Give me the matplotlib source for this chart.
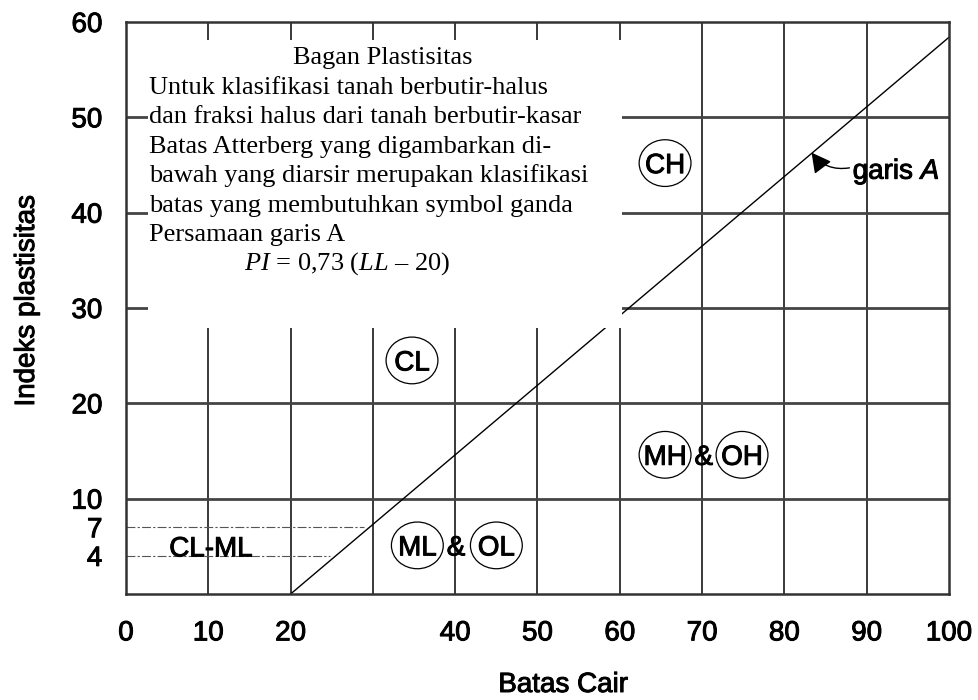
import matplotlib
matplotlib.use('Agg')
import matplotlib.pyplot as plt
from matplotlib.patches import Ellipse, Rectangle
import matplotlib.patheffects as pe
import numpy as np

plt.rcParams['font.family'] = ['Liberation Sans', 'DejaVu Sans']
plt.rcParams['mathtext.fontset'] = 'custom'
plt.rcParams['mathtext.rm'] = 'Liberation Serif'
plt.rcParams['mathtext.it'] = 'Liberation Serif:italic'
plt.rcParams['mathtext.sf'] = 'Liberation Sans:italic'

# axis ticks / grid
x_ticks = [0, 10, 20, 40, 50, 60, 70, 80, 90, 100]
y_ticks = [4, 7, 10, 20, 30, 40, 50, 60]
grid_x = [10, 20, 30, 40, 50, 60, 70, 80, 90]
grid_y = [10, 20, 30, 40, 50]

# A-line: PI = 0.73 (LL - 20)
a_slope = 0.73
a_start = 20
ll_line = np.array([20, 100])
pi_line = a_slope * (ll_line - a_start)

# CL-ML band limits
band_pi = [4, 7]

# soil group labels (circled)
groups = ['CH', 'CL', 'MH', 'OH', 'ML', 'OL']
group_ll = [65.5, 34.75, 65.5, 74.85, 35.4, 45.0]
group_pi = [45.2, 24.5, 14.6, 14.6, 5.1, 5.1]
amp_ll = [70.2, 40.1]
amp_pi = [14.6, 5.1]

# text box lines
box_title = 'Bagan Plastisitas'
box_lines = ['Untuk klasifikasi tanah berbutir-halus',
             'dan fraksi halus dari tanah berbutir-kasar',
             'Batas Atterberg yang digambarkan di-',
             'bawah yang diarsir merupakan klasifikasi',
             'batas yang membutuhkan symbol ganda',
             'Persamaan garis A']
box_eq = r'$PI$ = 0,73 ($LL$ – 20)'

heavy = [pe.withStroke(linewidth=0.7, foreground='k')]

fig = plt.figure(figsize=(9.79, 7), dpi=100)
ax = fig.add_axes([126/979, 106/700, 823/979, 572/700])
ax.set_xlim(0, 100)
ax.set_ylim(0, 60)

ax.vlines(grid_x, 0, 60, color='#2a2a2a', lw=1.3, zorder=1)
ax.hlines(grid_y, 0, 100, color='#444444', lw=2.0, zorder=1)

ax.plot(ll_line, pi_line, color='k', lw=1.0, zorder=2)

# dashed CL-ML limits, ending at the A-line
for p in band_pi:
    ax.plot([0, a_start + p / a_slope - 0.7], [p, p], color='#555555', lw=0.8,
            linestyle=(0, (8, 2, 2, 2)), zorder=2)
ax.text(10.3, 5.0, 'CL-ML', fontsize=20, ha='center', va='center_baseline', zorder=4,
        path_effects=heavy)

# white text box covering grid
ax.add_patch(Rectangle((2.7, 27.9), 60.3 - 2.7, 58.1 - 27.9, facecolor='white',
                       edgecolor='none', zorder=3))

serif = ['Liberation Serif', 'DejaVu Serif']
ax.text(31.2, 55.6, box_title, family=serif, fontsize=19, ha='center', va='baseline', zorder=4)
for i, line in enumerate(box_lines):
    ax.text(2.85, 52.5 - i * 3.1, line, family=serif, fontsize=19, ha='left',
            va='baseline', zorder=4)
ax.text(26.9, 34.0, box_eq, family=serif, fontsize=19, ha='center',
        va='baseline', zorder=4)

for g, x, y in zip(groups, group_ll, group_pi):
    ax.add_patch(Ellipse((x, y), 6.3, 4.9, facecolor='white', edgecolor='k', lw=0.9, zorder=4))
    ax.text(x, y, g, fontsize=20, ha='center', va='center_baseline', zorder=5,
            path_effects=heavy)
for x, y in zip(amp_ll, amp_pi):
    ax.text(x, y, '&', fontsize=20, ha='center', va='center_baseline', zorder=5,
            path_effects=heavy)

ax.annotate('', xy=(83.3, 46.3), xytext=(87.9, 44.7),
            arrowprops=dict(arrowstyle='-|>,head_length=0.6,head_width=0.32',
                            connectionstyle='arc3,rad=-0.3', color='k', lw=1.0,
                            shrinkA=0, shrinkB=0, mutation_scale=20), zorder=5)
ax.text(88.3, 44.7, r'garis $\mathsf{A}$', fontsize=20, ha='left', va='center_baseline',
        zorder=5, path_effects=heavy)

ax.set_xticks(x_ticks)
ax.set_yticks(y_ticks)
ax.tick_params(length=0, labelsize=20)
ax.tick_params(axis='x', pad=19)
ax.tick_params(axis='y', pad=17)
for lbl in ax.get_xticklabels() + ax.get_yticklabels():
    lbl.set_path_effects(heavy)
for s in ax.spines.values():
    s.set_color('#333333')
    s.set_linewidth(1.8)

fig.text(563/979, 1 - 685/700, 'Batas Cair', fontsize=20, ha='center', va='center',
         path_effects=heavy)
fig.text(27/979, 1 - 301/700, 'Indeks plastisitas', fontsize=20, rotation=90,
         ha='center', va='center', path_effects=heavy)

fig.savefig('out.png', dpi=100)
